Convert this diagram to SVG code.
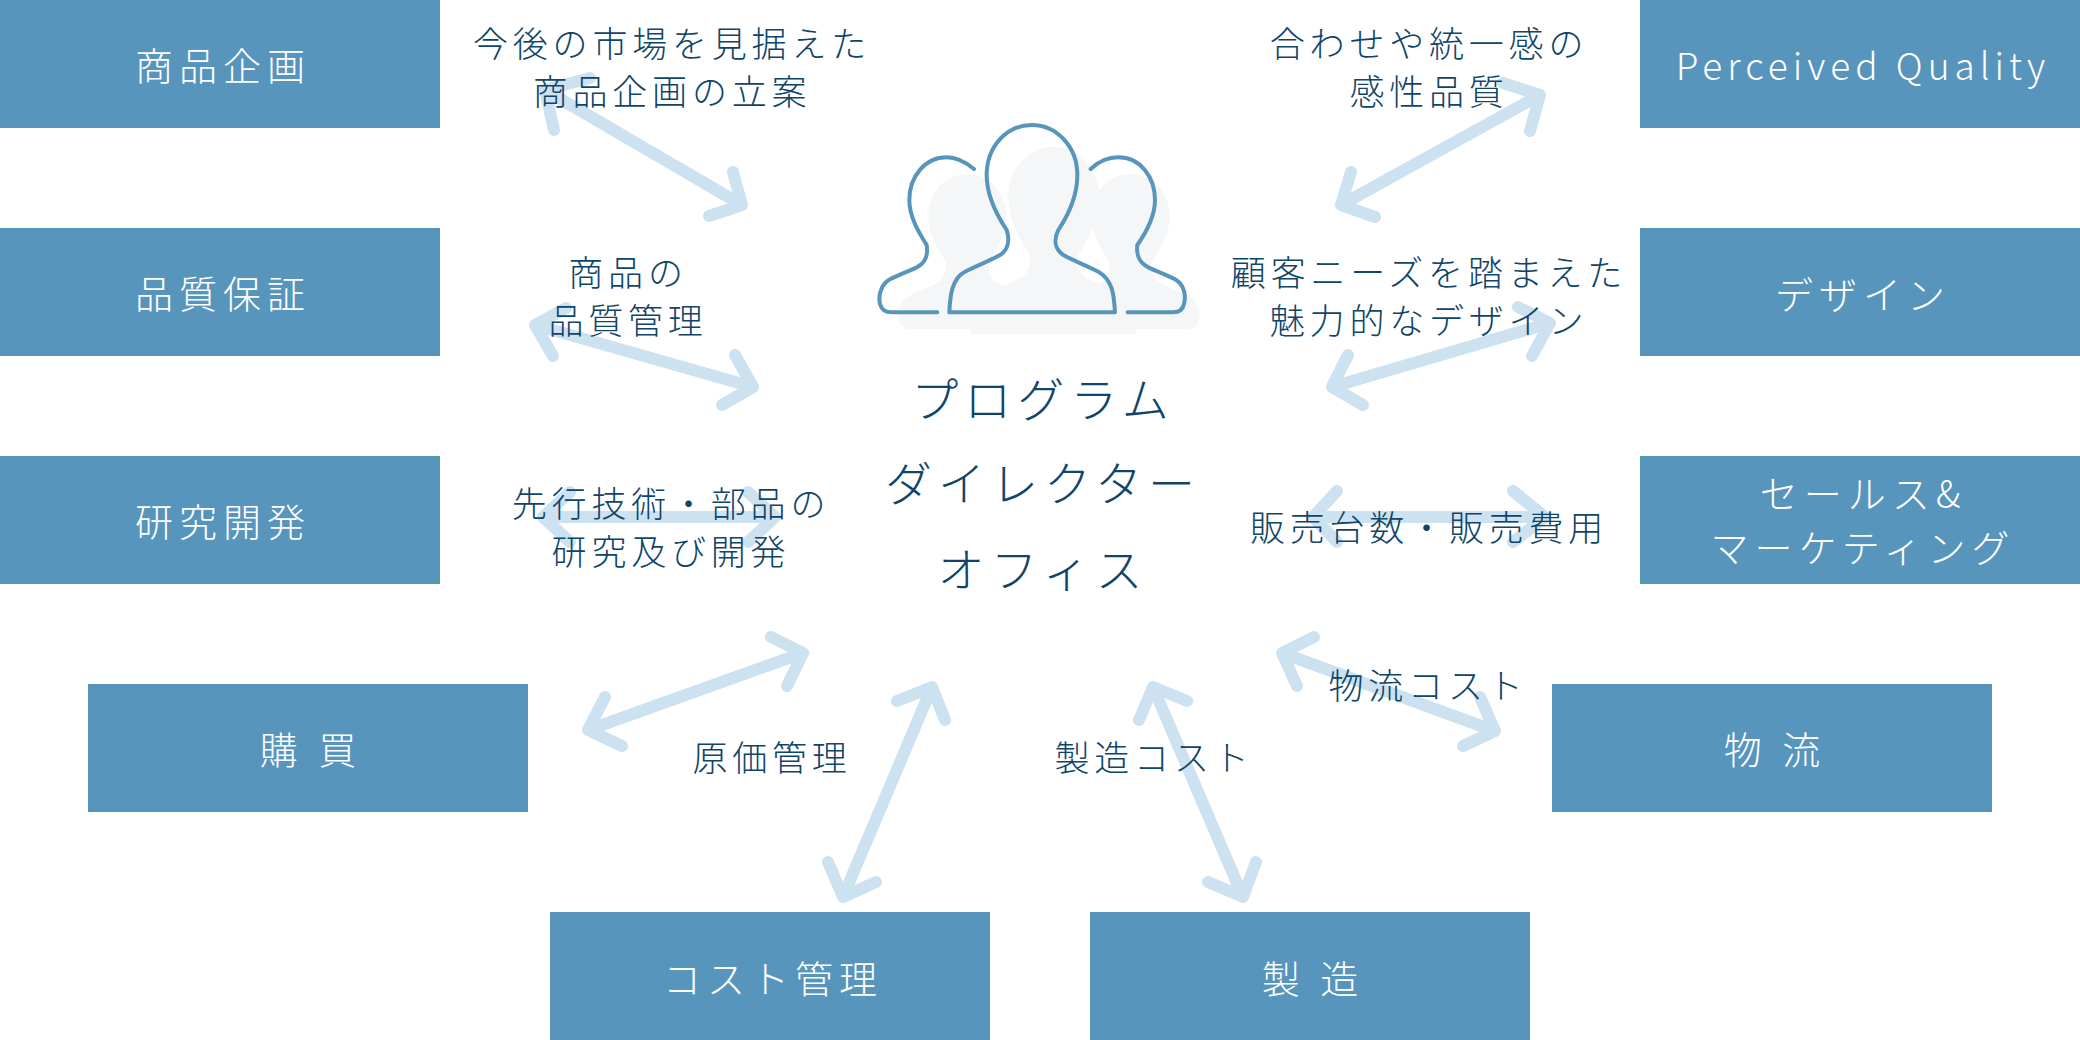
<svg xmlns="http://www.w3.org/2000/svg" width="2080" height="1040" viewBox="0 0 2080 1040">
<style>
text{font-family:"Noto Sans CJK JP","Noto Sans",sans-serif;font-weight:300;text-anchor:middle}
.box{fill:#5795bc}
.bl{fill:#fff;font-size:38px;letter-spacing:6px}
.pq{fill:#fff;font-size:37px;letter-spacing:5px}
.lb{fill:#0f4569;font-size:35px;letter-spacing:4.8px}
.ct{fill:#0f4569;font-size:47px;letter-spacing:6px}
.ar{fill:none;stroke:#cde2f0;stroke-width:12;stroke-linecap:round;stroke-linejoin:round}
.ln{fill:none;stroke:#5795bc;stroke-width:12;stroke-linecap:round;stroke-linejoin:round}
.sh{fill:#f4f6f7}
</style>
<rect width="2080" height="1040" fill="#fff"/>
<g id="connectors">
<path class="ar" d="M545 90L742 205M554 130L545 90L590 78M733 172L742 205L709 216"/>
<path class="ar" d="M535 325L753 387M553 356L535 325L566 308M735 355L753 387L722 405"/>
<path class="ar" d="M1540 95L1341 205M1530 131L1540 95L1503 83M1351 172L1341 205L1375 217"/>
<path class="ar" d="M1550 323L1332 387M1532 356L1550 323L1518 307M1348 355L1332 387L1363 405"/>
<path class="ar" d="M543 517H775M570 492L543 517L570 542M748 492L775 517L748 542"/>
<path class="ar" d="M1313 517H1545M1337 491L1313 517L1337 542M1513 491L1545 517L1513 542"/>
<path class="ar" d="M803 653L588 730M771 637L803 653L787 686M605 697L588 730L622 746"/>
<path class="ar" d="M932 687L843 897M897 701L932 687L945 720M828 862L843 897L876 882"/>
<path class="ar" d="M1153 687L1243 897M1187 701L1153 687L1139 720M1208 882L1243 897L1256 862"/>
<path class="ar" d="M1282 653L1495 731M1314 637L1282 653L1297 686M1480 697L1495 731L1463 746"/>
</g>
<g id="node-office">
<g transform="translate(860 100) scale(.33333)">
<path class="sh" transform="translate(57 50)" d="M95 637C80 637 65 630 60 612C55 590 60 555 90 538C115 525 145 514 170 502C195 490 205 465 200 435C175 395 148 350 148 300C148 230 195 172 265 172C335 172 382 230 382 300C382 350 355 395 330 435C325 465 335 490 360 502C385 514 415 525 440 538C470 555 475 590 470 612C465 630 450 637 435 637Z"/>
<path class="sh" transform="translate(547 50)" d="M95 637C80 637 65 630 60 612C55 590 60 555 90 538C115 525 145 514 170 502C195 490 205 465 200 435C175 395 148 350 148 300C148 230 195 172 265 172C335 172 382 230 382 300C382 350 355 395 330 435C325 465 335 490 360 502C385 514 415 525 440 538C470 555 475 590 470 612C465 630 450 637 435 637Z"/>
<path class="sh" transform="translate(65 65)" d="M268 637H765C762 590 760 540 715 515C680 497 640 482 610 465C585 448 580 420 595 390C625 345 652 290 652 225C652 140 590 75 515 75C440 75 380 140 380 225C380 290 410 345 440 390C450 420 445 450 420 465C390 482 350 497 315 515C275 535 270 590 268 637Z"/>
<path class="ln" d="M268 637H765C762 590 760 540 715 515C680 497 640 482 610 465C585 448 580 420 595 390C625 345 652 290 652 225C652 140 590 75 515 75C440 75 380 140 380 225C380 290 410 345 440 390C450 420 445 450 420 465C390 482 350 497 315 515C275 535 270 590 268 637Z"/>
<path class="ln" d="M342 207C315 185 290 172 260 172C195 172 148 230 148 300C148 350 175 395 200 435C205 465 195 490 170 502C145 514 115 525 90 538C60 555 55 590 60 612C65 630 80 637 95 637H232"/>
<path class="ln" d="M692 207C715 185 745 172 775 172C840 172 885 230 885 300C885 350 860 395 832 435C828 465 840 490 865 502C890 514 920 525 945 538C975 555 978 590 972 612C968 630 955 637 940 637H803"/>
</g>
<text class="ct" x="1043" y="417">プログラム</text>
<text class="ct" x="1043" y="501">ダイレクター</text>
<text class="ct" x="1043" y="587">オフィス</text>
</g>
<g id="node-planning"><rect class="box" x="0" y="0" width="440" height="128"/><text class="bl" x="223" y="80">商品企画</text></g>
<g id="node-quality"><rect class="box" x="0" y="228" width="440" height="128"/><text class="bl" x="223" y="308">品質保証</text></g>
<g id="node-rd"><rect class="box" x="0" y="456" width="440" height="128"/><text class="bl" x="223" y="536">研究開発</text></g>
<g id="node-purchase"><rect class="box" x="88" y="684" width="440" height="128"/><text class="bl" x="311" y="764">購 買</text></g>
<g id="node-cost"><rect class="box" x="550" y="912" width="440" height="128"/><text class="bl" x="773" y="993">コスト管理</text></g>
<g id="node-mfg"><rect class="box" x="1090" y="912" width="440" height="128"/><text class="bl" x="1313" y="993">製 造</text></g>
<g id="node-logistics"><rect class="box" x="1552" y="684" width="440" height="128"/><text class="bl" x="1775" y="764">物 流</text></g>
<g id="node-pq"><rect class="box" x="1640" y="0" width="440" height="128"/><text class="pq" x="1863" y="80">Perceived Quality</text></g>
<g id="node-design"><rect class="box" x="1640" y="228" width="440" height="128"/><text class="bl" x="1863" y="309">デザイン</text></g>
<g id="node-sales"><rect class="box" x="1640" y="456" width="440" height="128"/><text class="bl" x="1863" y="508">セールス&amp;</text><text class="bl" x="1863" y="562">マーケティング</text></g>
<g id="labels">
<text class="lb" x="672" y="57">今後の市場を見据えた</text>
<text class="lb" x="672" y="105">商品企画の立案</text>
<text class="lb" x="628" y="286">商品の</text>
<text class="lb" x="628" y="334">品質管理</text>
<text class="lb" x="671" y="517">先行技術・部品の</text>
<text class="lb" x="671" y="565">研究及び開発</text>
<text class="lb" x="772" y="771">原価管理</text>
<text class="lb" x="1429" y="57">合わせや統一感の</text>
<text class="lb" x="1429" y="105">感性品質</text>
<text class="lb" x="1429" y="286">顧客ニーズを踏まえた</text>
<text class="lb" x="1429" y="334">魅力的なデザイン</text>
<text class="lb" x="1429" y="541">販売台数・販売費用</text>
<text class="lb" x="1154" y="771">製造コスト</text>
<text class="lb" x="1428" y="699">物流コスト</text>
</g>
</svg>
